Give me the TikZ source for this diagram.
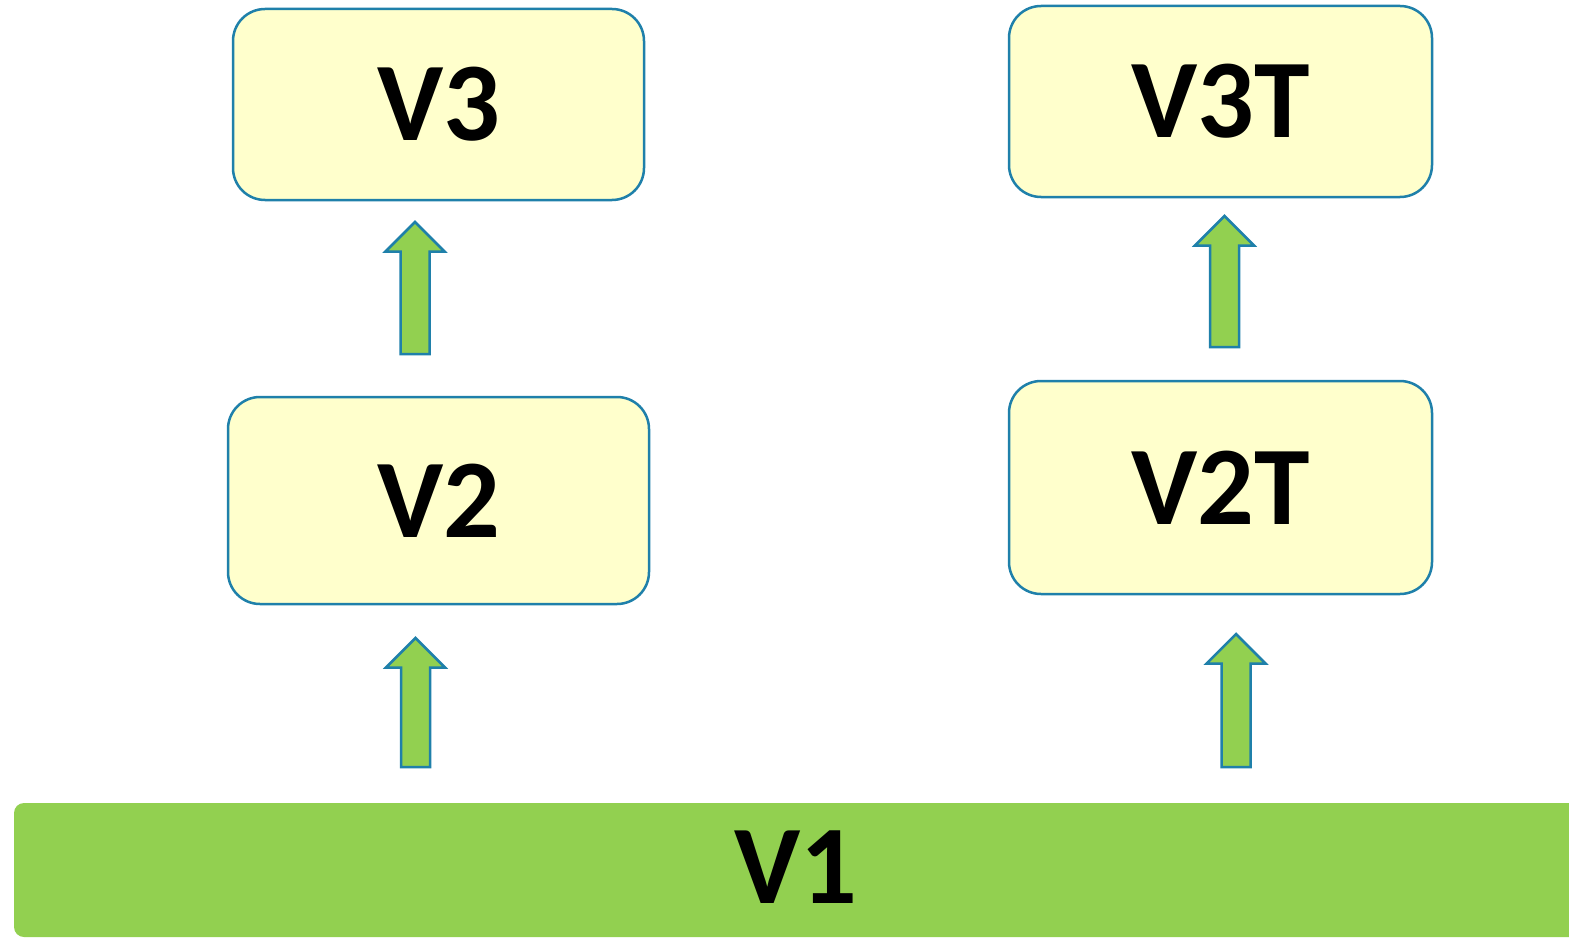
\documentclass[tikz,border=0pt]{standalone}
\usepackage{fontspec}
\setmainfont{Carlito}
\definecolor{boxfill}{HTML}{FFFFCC}
\definecolor{boxline}{HTML}{1F80AA}
\definecolor{leaf}{HTML}{92D050}
\newcommand\blockup[3]{% x, tip y, bottom y
  \draw[uparrow] (#1,#2) -- ++(29.5,29.5) -- ++(-15,0) |- (#1-14.5,#3) -- ++(0,{#2+29.5-#3}) -- ++(-15,0) -- cycle;}
\begin{document}
\begin{tikzpicture}[x=1pt,y=-1pt,
  vbox/.style={draw=boxline, fill=boxfill, line width=2.5pt, rounded corners=32pt,
    inner sep=0pt, outer sep=0pt, font=\fontsize{112}{112}\bfseries\selectfont, text=black},
  vtext/.style={font=\fontsize{112}{112}\bfseries\selectfont, text=black, inner sep=0pt},
  uparrow/.style={draw=boxline, fill=leaf, line width=2.5pt, line join=miter}]
\useasboundingbox (0,0) rectangle (1569,939);
\begin{scope}
\clip (0,0) rectangle (1569,939);
\fill[leaf, rounded corners=10pt] (14,803) rectangle (1600,937);
\end{scope}
\node[vtext] (v1) at (796,867) {V1};
% boxes
\node[vbox, minimum width=411pt, minimum height=191pt] (v3) at (438.5,104.5) {V3};
\node[vbox, minimum width=423pt, minimum height=191pt] (v3t) at (1220.5,101.5) {V3T};
\node[vbox, minimum width=421pt, minimum height=207pt] (v2) at (438.5,500.5) {V2};
\node[vbox, minimum width=423pt, minimum height=213pt] (v2t) at (1220.5,487.5) {V2T};
% block arrows
\blockup{415}{222}{354}
\blockup{415.5}{638}{767}
\blockup{1224.5}{216}{347}
\blockup{1236}{634}{767}
\end{tikzpicture}
\end{document}
